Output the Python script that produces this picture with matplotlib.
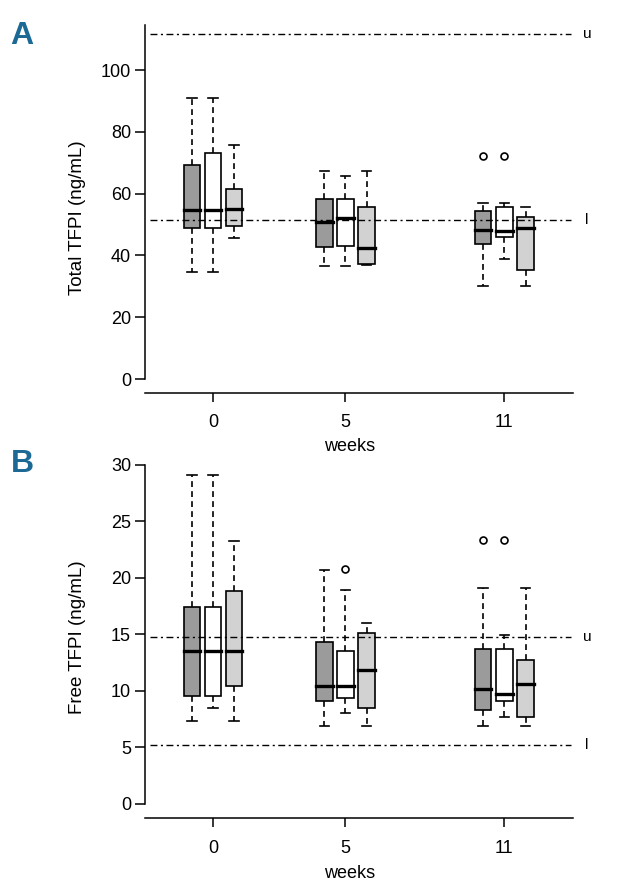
import matplotlib
matplotlib.use("Agg")
import matplotlib.pyplot as plt

plt.rcParams["font.family"] = ["Liberation Sans Narrow", "Liberation Sans", "DejaVu Sans"]

weeks = [0, 5, 11]
tick_labels = ["0", "5", "11"]
series_colors = ["#9b9b9b", "#ffffff", "#d2d2d2"]

# panel A: total TFPI (ng/mL), one list per series, one value per week
total_whislo = [[34.6, 36.6, 30.2], [34.6, 36.6, 38.9], [45.7, 37.0, 30.2]]
total_q1 = [[49.0, 42.6, 43.7], [49.0, 43.1, 46.1], [49.5, 37.2, 35.3]]
total_med = [[54.6, 50.7, 48.2], [54.6, 52.1, 47.9], [55.1, 42.4, 48.9]]
total_q3 = [[69.2, 58.2, 54.3], [73.1, 58.2, 55.8], [61.6, 55.8, 52.4]]
total_whishi = [[90.8, 67.3, 57.1], [90.8, 65.7, 57.1], [75.9, 67.3, 55.6]]
total_fliers = [[[], [], [72.2]], [[], [], [72.2]], [[], [], []]]
total_ref = {"u": 111.7, "l": 51.4}

# panel B: free TFPI (ng/mL)
free_whislo = [[7.35, 6.91, 6.91], [8.48, 8.0, 7.71], [7.35, 6.91, 6.91]]
free_q1 = [[9.54, 9.07, 8.3], [9.54, 9.39, 9.07], [10.45, 8.48, 7.65]]
free_med = [[13.55, 10.43, 10.13], [13.55, 10.43, 9.69], [13.55, 11.84, 10.58]]
free_q3 = [[17.45, 14.3, 13.67], [17.45, 13.52, 13.67], [18.84, 15.09, 12.73]]
free_whishi = [[29.1, 20.67, 19.08], [29.1, 18.93, 14.9], [23.27, 16.03, 19.08]]
free_fliers = [[[], [], [23.36]], [[], [20.76], [23.36]], [[], [], []]]
free_ref = {"u": 14.74, "l": 5.2}

offsets = [-0.8, 0.0, 0.8]
box_w = 0.62


def draw_panel(ax, whislo, q1, med, q3, whishi, fliers, ref, ylim, ybounds,
               yticks, ylabel, ylabel_y, letter, letter_y, weeks_y):
    for s in range(3):
        stats = []
        for i in range(len(weeks)):
            stats.append({
                "whislo": whislo[s][i], "q1": q1[s][i], "med": med[s][i],
                "q3": q3[s][i], "whishi": whishi[s][i], "fliers": fliers[s][i],
            })
        pos = [w + offsets[s] for w in weeks]
        ax.bxp(stats, positions=pos, widths=box_w, patch_artist=True,
               showfliers=True, capwidths=0.36, manage_ticks=False,
               boxprops=dict(facecolor=series_colors[s], edgecolor="black", linewidth=1.2),
               medianprops=dict(color="black", linewidth=2.4, solid_capstyle="projecting"),
               whiskerprops=dict(color="black", linewidth=1.2, linestyle=(0, (3.5, 2.5))),
               capprops=dict(color="black", linewidth=1.2),
               flierprops=dict(marker="o", markersize=5, markerfacecolor="none",
                               markeredgecolor="black", markeredgewidth=1.2))

    # reference range lines (upper / lower)
    for key, val in ref.items():
        ax.plot([-2.4, 13.5], [val, val], color="black", linewidth=1.0,
                linestyle=(0, (5, 2.5, 1.5, 2.5)), zorder=5, clip_on=False)
        ax.text(14.12, val, key, ha="center", va="center", fontsize=11,
                clip_on=False)

    ax.set_xlim(-2.57, 13.59)
    ax.set_ylim(*ylim)
    ax.set_xticks(weeks)
    ax.set_xticklabels(tick_labels)
    ax.set_yticks(yticks)
    ax.spines["top"].set_visible(False)
    ax.spines["right"].set_visible(False)
    ax.spines["left"].set_bounds(*ybounds)
    ax.spines["left"].set_linewidth(1.1)
    ax.spines["bottom"].set_linewidth(1.1)
    ax.tick_params(axis="y", length=7, width=1.1, pad=3, labelsize=13)
    ax.tick_params(axis="x", length=6.5, width=1.1, pad=9, labelsize=13)

    fig.text(77.7 / 621, 1 - ylabel_y / 890, ylabel, rotation=90,
             ha="center", va="center", fontsize=13.5)
    fig.text(22 / 621, 1 - letter_y / 890, letter, ha="center", va="center",
             fontsize=23, fontweight="bold", color="#1b6994")
    fig.text(350 / 621, 1 - weeks_y / 890, "weeks", ha="center", va="center",
             fontsize=13)


fig = plt.figure(figsize=(6.21, 8.90), dpi=100)
ax_a = fig.add_axes([145 / 621, 1 - 392.7 / 890, 428 / 621, 372.7 / 890])
ax_b = fig.add_axes([145 / 621, 1 - 818.3 / 890, 428 / 621, 358.3 / 890])

draw_panel(ax_a, total_whislo, total_q1, total_med, total_q3, total_whishi,
           total_fliers, total_ref, (-4.43, 116.2), (0, 114.6),
           [0, 20, 40, 60, 80, 100], "Total TFPI (ng/mL)", 218, "A", 36.5, 446)
draw_panel(ax_b, free_whislo, free_q1, free_med, free_q3, free_whishi,
           free_fliers, free_ref, (-1.29, 30.44), (0, 30),
           [0, 5, 10, 15, 20, 25, 30], "Free TFPI (ng/mL)", 637, "B", 464, 873)

fig.savefig("out.png", dpi=100)
